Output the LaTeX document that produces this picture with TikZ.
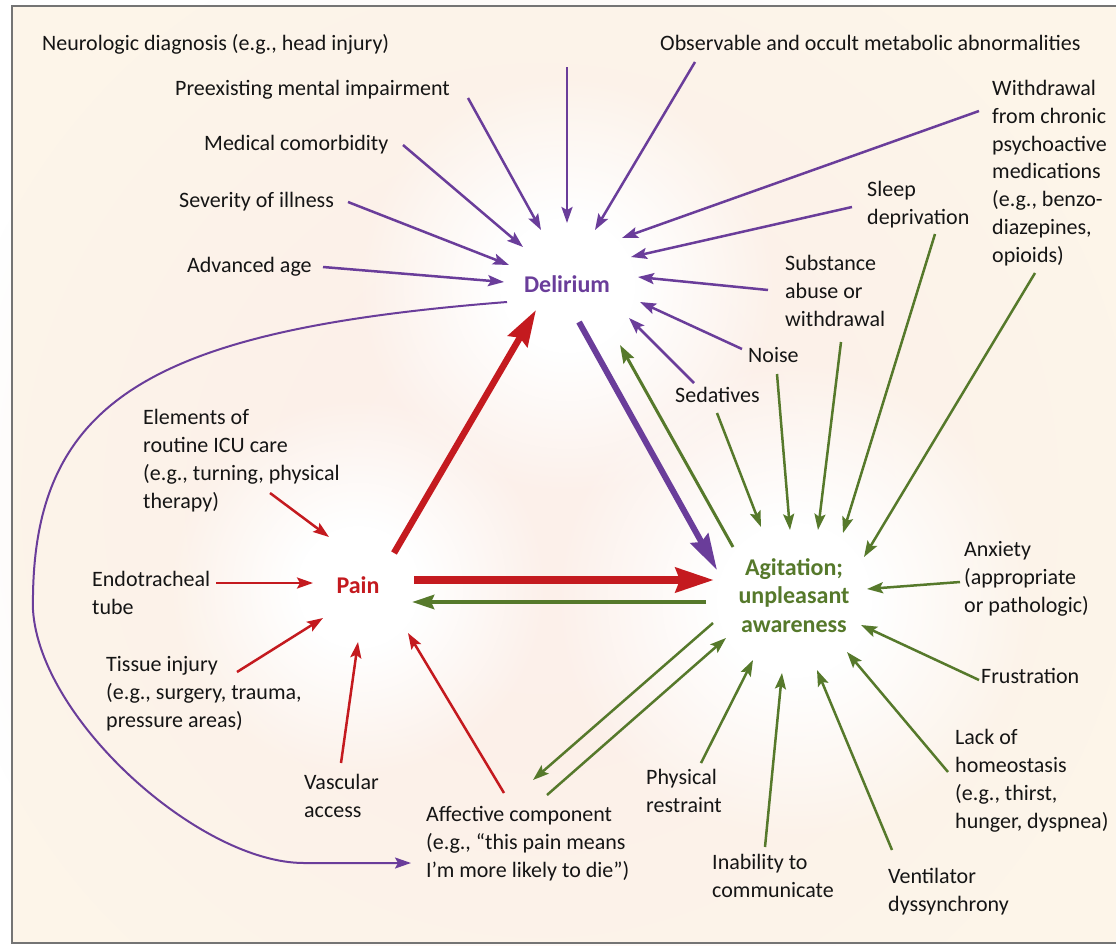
\documentclass[tikz,border=0pt]{standalone}
\usepackage{fontspec}
\setmainfont{Carlito}
\usetikzlibrary{arrows.meta,fadings}

\definecolor{paper}{HTML}{FDF5E9}
\definecolor{framegray}{HTML}{747474}
\definecolor{ink}{HTML}{151515}
\definecolor{delpurple}{HTML}{6A3D9A}
\definecolor{painred}{HTML}{C41A1F}
\definecolor{agigreen}{HTML}{56792B}
\definecolor{blush}{HTML}{FCF0EA}

% soft radial glow: opaque core, fading out at half the circle radius
\pgfdeclareradialshading{glowshade}{\pgfpointorigin}{color(0bp)=(white); color(8bp)=(white); color(25bp)=(black); color(50bp)=(black)}
\pgfdeclarefading{glowfade}{\pgfuseshading{glowshade}}

\newcommand\lblfont{\fontsize{22}{27.7}\selectfont}
\newcommand\hubfont{\fontsize{24}{28.5}\selectfont\bfseries}

% labels are placed by the baseline of their last line
\tikzset{
  lbl/.style={font=\lblfont, text=ink, inner sep=0pt, align=left, anchor=base west},
  hub/.style={font=\hubfont, inner sep=0pt, align=center, anchor=base},
  glow/.style={fill=white, path fading=glowfade},
  thinhead/.style={-{Stealth[length=16pt,width=11pt,inset=3pt]}},
  parrow/.style={draw=delpurple, line width=2.5pt, thinhead},
  rarrow/.style={draw=painred, line width=2.5pt, thinhead},
  garrow/.style={draw=agigreen, line width=2.5pt, thinhead},
}

\begin{document}
\begin{tikzpicture}[x=1pt,y=-1pt]
\useasboundingbox (0,0) rectangle (1116,945);
\fill[white] (0,0) rectangle (1116,945);
\fill[paper] (12,6) rectangle (1116,943);

% background glows
\fill[blush, path fading=glowfade] (540,500) circle (600pt);
\fill[glow] (567,285) circle (210pt);
\fill[glow] (358,587) circle (190pt);
\fill[glow] (794,600) circle (240pt);

% frame
\draw[framegray, line width=2pt] (1116,6) -- (12,6) -- (12,943) -- (1116,943);

% hubs
\node[hub, text=delpurple] (del) at (567,292) {Delirium};
\node[hub, text=painred] (pain) at (358,593) {Pain};
\node[hub, text=agigreen] (agit) at (794,632) {Agitation;\\unpleasant\\awareness};

% labels
\node[lbl] (neuro) at (42,50) {Neurologic diagnosis (e.g., head injury)};
\node[lbl] (preex) at (175,95) {Preexisting mental impairment};
\node[lbl] (medic) at (204,150) {Medical comorbidity};
\node[lbl] (sever) at (179,207) {Severity of illness};
\node[lbl] (age) at (187,272) {Advanced age};
\node[lbl] (metab) at (660,50) {Observable and occult metabolic abnormalities};
\node[lbl] (withd) at (992,262) {Withdrawal\\from chronic\\psychoactive\\medications\\(e.g., benzo-\\diazepines,\\opioids)};
\node[lbl] (sleep) at (867,224) {Sleep\\deprivation};
\node[lbl] (subst) at (785,326) {Substance\\abuse or\\withdrawal};
\node[lbl] (noise) at (748,362) {Noise};
\node[lbl] (sedat) at (675,402) {Sedatives};
\node[lbl] (elem) at (143,508) {Elements of\\routine ICU care\\(e.g., turning, physical\\therapy)};
\node[lbl] (endo) at (92,614) {Endotracheal\\tube};
\node[lbl] (tissue) at (106,727) {Tissue injury\\(e.g., surgery, trauma,\\pressure areas)};
\node[lbl] (vasc) at (304,817) {Vascular\\access};
\node[lbl] (affect) at (426,877) {Affective component\\(e.g., “this pain means\\I’m more likely to die”)};
\node[lbl] (phys) at (646,812) {Physical\\restraint};
\node[lbl] (inab) at (712,897) {Inability to\\communicate};
\node[lbl] (vent) at (888,911) {Ventilator\\dyssynchrony};
\node[lbl] (lack) at (955,828) {Lack of\\homeostasis\\(e.g., thirst,\\hunger, dyspnea)};
\node[lbl] (frust) at (981,683) {Frustration};
\node[lbl] (anx) at (964,612) {Anxiety\\(appropriate\\or pathologic)};

% connector end points
\coordinate (neuro-t) at (567,67);   \coordinate (neuro-h) at (567,223);
\coordinate (preex-t) at (468,98);   \coordinate (preex-h) at (541,230);
\coordinate (medic-t) at (403,145);  \coordinate (medic-h) at (523,247);
\coordinate (sever-t) at (348,202);  \coordinate (sever-h) at (509,265);
\coordinate (age-t) at (323,267);    \coordinate (age-h) at (504,282);
\coordinate (metab-t) at (695,62);   \coordinate (metab-h) at (595,230);
\coordinate (withd-t) at (979,111);  \coordinate (withd-h) at (622,238);
\coordinate (sleep-t) at (852,207);  \coordinate (sleep-h) at (631,257);
\coordinate (subst-t) at (768,290);  \coordinate (subst-h) at (638,277);
\coordinate (noise-t) at (742,349);  \coordinate (noise-h) at (640,302);
\coordinate (sedat-t) at (694,383);  \coordinate (sedat-h) at (629,318);
\coordinate (loop-t) at (507,302);   \coordinate (loop-h) at (411,863);

\coordinate (pd-t) at (394,553);     \coordinate (pd-h) at (536,310);
\coordinate (pa-t) at (414,580);     \coordinate (pa-h) at (714,580);
\coordinate (da-t) at (579,322);     \coordinate (da-h) at (717,570);
\coordinate (ap-t) at (706,602);     \coordinate (ap-h) at (412,602);
\coordinate (ad-t) at (733,547);     \coordinate (ad-h) at (620,345);

\coordinate (elem-t) at (270,493);   \coordinate (elem-h) at (329,537);
\coordinate (endo-t) at (216,583);   \coordinate (endo-h) at (313,583);
\coordinate (tissue-t) at (237,672); \coordinate (tissue-h) at (323,618);
\coordinate (vasc-t) at (341,763);   \coordinate (vasc-h) at (358,642);
\coordinate (affp-t) at (504,793);   \coordinate (affp-h) at (408,633);

\coordinate (aaf-t) at (713,623);    \coordinate (aaf-h) at (533,780);
\coordinate (afa-t) at (547,795);    \coordinate (afa-h) at (726,638);
\coordinate (gsed-t) at (717,413);   \coordinate (gsed-h) at (761,527);
\coordinate (gnoi-t) at (777,374);   \coordinate (gnoi-h) at (790,530);
\coordinate (gsub-t) at (841,342);   \coordinate (gsub-h) at (818,530);
\coordinate (gslp-t) at (935,234);   \coordinate (gslp-h) at (843,533);
\coordinate (gwd-t) at (1035,273);   \coordinate (gwd-h) at (864,557);
\coordinate (anx-t) at (960,582);    \coordinate (anx-h) at (867,589);
\coordinate (frust-t) at (979,680);  \coordinate (frust-h) at (861,625);
\coordinate (lack-t) at (948,772);   \coordinate (lack-h) at (847,652);
\coordinate (vent-t) at (892,850);   \coordinate (vent-h) at (817,670);
\coordinate (inab-t) at (765,847);   \coordinate (inab-h) at (782,673);
\coordinate (phys-t) at (701,763);   \coordinate (phys-h) at (753,660);

% risk factors for delirium
\foreach \k in {neuro,preex,medic,sever,age,metab,withd,sleep,subst,noise,sedat}
  \draw[parrow] (\k-t) -- (\k-h);

% delirium feeding the affective component
\draw[draw=delpurple, line width=2pt, -{Stealth[length=16pt,width=11pt,inset=3pt]}]
  (loop-t) .. controls (150,330) and (30,400) .. (33,610)
           .. controls (40,720) and (200,863) .. (304,863) -- (loop-h);

% causes of pain
\foreach \k in {elem,endo,tissue,vasc,affp}
  \draw[rarrow] (\k-t) -- (\k-h);

% causes of agitation
\foreach \k in {aaf,afa,gsed,gnoi,gsub,gslp,gwd,anx,frust,lack,vent,inab,phys}
  \draw[garrow] (\k-t) -- (\k-h);

% main triangle
\draw[draw=painred, line width=6.5pt, -{Stealth[length=36pt,width=22pt,inset=4pt]}] (pd-t) -- (pd-h);
\draw[draw=painred, line width=8pt, -{Stealth[length=38pt,width=24pt,inset=4pt]}] (pa-t) -- (pa-h);
\draw[draw=delpurple, line width=6pt, -{Stealth[length=36pt,width=20pt,inset=4pt]}] (da-t) -- (da-h);
\draw[draw=agigreen, line width=4.5pt, -{Stealth[length=22pt,width=14pt,inset=3pt]}] (ap-t) -- (ap-h);
\draw[draw=agigreen, line width=3pt, -{Stealth[length=18pt,width=12pt,inset=3pt]}] (ad-t) -- (ad-h);
\end{tikzpicture}
\end{document}
